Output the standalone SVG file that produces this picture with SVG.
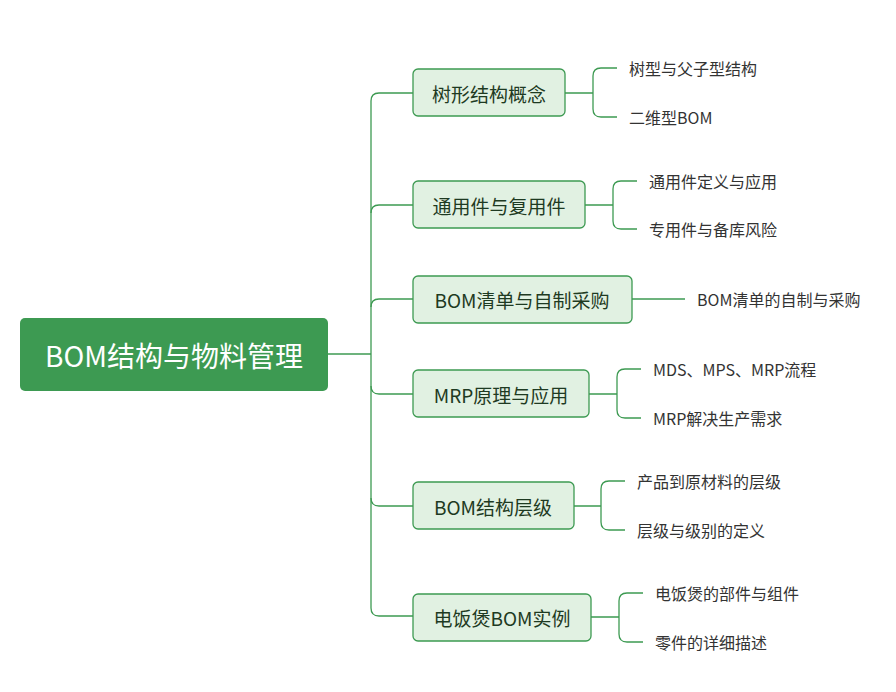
<svg xmlns="http://www.w3.org/2000/svg" width="896" height="692" viewBox="0 0 896 692">
<style>
.c{fill:none;stroke:#3d9a52;stroke-width:1.3}
.b{fill:#e1f1e2;stroke:#3d9a52;stroke-width:1.3}
.bt{font-family:"Microsoft YaHei","Noto Sans CJK SC",sans-serif;font-size:19px;fill:#1e3a22;dominant-baseline:central}
.lt{font-family:"Microsoft YaHei","Noto Sans CJK SC",sans-serif;font-size:16px;fill:#333;dominant-baseline:central}
</style>
<rect width="896" height="692" fill="#fff"/>
<g id="connectors">
<path class="c" d="M328 354H371"/>
<path class="c" d="M413 93H379Q371 93 371 101V608Q371 616 379 616H413"/>
<path class="c" d="M371 213Q371 205 379 205H413M371 307Q371 299 379 299H413M371 386Q371 394 379 394H413M371 498Q371 506 379 506H413"/>
<path class="c" d="M565 93H593M617 68H601Q593 68 593 76V109Q593 117 601 117H617"/>
<path class="c" d="M585 205H613M637 181H621Q613 181 613 189V221Q613 229 621 229H637"/>
<path class="c" d="M632 299H685"/>
<path class="c" d="M589 394H617M641 369H625Q617 369 617 377V410Q617 418 625 418H641"/>
<path class="c" d="M574 506H601M625 481H609Q601 481 601 489V522Q601 530 609 530H625"/>
<path class="c" d="M591 617H619M643 593H627Q619 593 619 601V634Q619 642 627 642H643"/>
</g>
<g id="root"><rect x="20" y="318" width="308" height="73" rx="5" fill="#3d9a52"/>
<text x="174" y="355" text-anchor="middle" style="font-family:'Microsoft YaHei','Noto Sans CJK SC',sans-serif;font-size:28px;fill:#fff;dominant-baseline:central">BOM结构与物料管理</text></g>
<g id="b1"><rect class="b" x="413" y="69" width="152" height="47" rx="5"/><text class="bt" x="489" y="93" text-anchor="middle">树形结构概念</text></g>
<g id="b2"><rect class="b" x="413" y="181" width="172" height="47" rx="5"/><text class="bt" x="499" y="205" text-anchor="middle">通用件与复用件</text></g>
<g id="b3"><rect class="b" x="413" y="276" width="219" height="47" rx="5"/><text class="bt" x="522" y="299" text-anchor="middle">BOM清单与自制采购</text></g>
<g id="b4"><rect class="b" x="413" y="370" width="176" height="47" rx="5"/><text class="bt" x="501" y="394" text-anchor="middle">MRP原理与应用</text></g>
<g id="b5"><rect class="b" x="413" y="482" width="161" height="47" rx="5"/><text class="bt" x="493" y="506" text-anchor="middle">BOM结构层级</text></g>
<g id="b6"><rect class="b" x="413" y="594" width="178" height="47" rx="5"/><text class="bt" x="502" y="617" text-anchor="middle">电饭煲BOM实例</text></g>
<g id="l1"><text class="lt" x="629" y="68">树型与父子型结构</text></g>
<g id="l2"><text class="lt" x="629" y="117">二维型BOM</text></g>
<g id="l3"><text class="lt" x="649" y="181">通用件定义与应用</text></g>
<g id="l4"><text class="lt" x="649" y="229">专用件与备库风险</text></g>
<g id="l5"><text class="lt" x="697" y="299">BOM清单的自制与采购</text></g>
<g id="l6"><text class="lt" x="653" y="369">MDS、MPS、MRP流程</text></g>
<g id="l7"><text class="lt" x="653" y="418">MRP解决生产需求</text></g>
<g id="l8"><text class="lt" x="637" y="481">产品到原材料的层级</text></g>
<g id="l9"><text class="lt" x="637" y="530">层级与级别的定义</text></g>
<g id="l10"><text class="lt" x="655" y="593">电饭煲的部件与组件</text></g>
<g id="l11"><text class="lt" x="655" y="642">零件的详细描述</text></g>
</svg>
